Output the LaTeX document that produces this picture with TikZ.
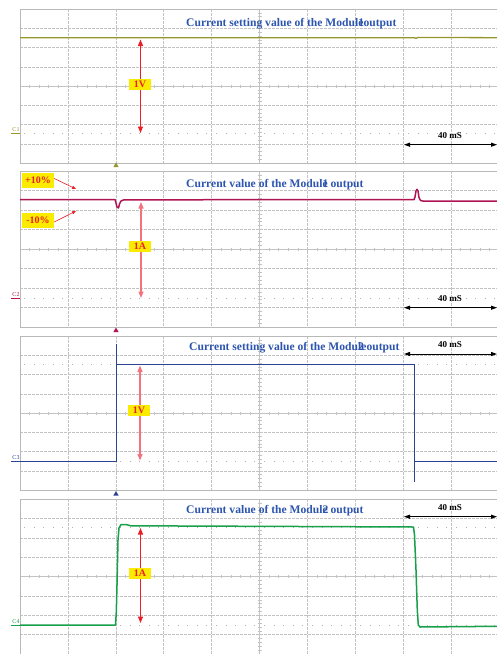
\documentclass[tikz,border=0pt]{standalone}
\usepackage{fontspec}
\setmainfont{Liberation Serif}
\usetikzlibrary{arrows.meta,shapes.geometric}
\definecolor{gridc}{RGB}{195,195,195}
\definecolor{framec}{RGB}{185,185,185}
\definecolor{olivec}{RGB}{150,150,45}
\definecolor{crim}{RGB}{175,20,85}
\definecolor{bluec}{RGB}{45,65,145}
\definecolor{greenc}{RGB}{25,160,75}
\definecolor{titlec}{RGB}{45,85,175}
\definecolor{redc}{RGB}{235,30,40}
\definecolor{pinkc}{RGB}{242,115,125}
\definecolor{yel}{RGB}{250,235,0}
\tikzset{
  gridl/.style={draw=gridc, line width=0.5pt, dash pattern=on 2.5pt off 1.5pt},
  axisl/.style={draw=gridc, line width=0.5pt},
  framel/.style={draw=framec, line width=0.8pt},
  cursl/.style={draw=gray!60, line width=0.7pt, dash pattern=on 0.7pt off 8.9pt},
  ttl/.style={text=titlec, font=\fontsize{11.6}{13}\selectfont\bfseries, inner sep=0pt, anchor=west},
  lbl/.style={fill=yel, text=redc, font=\fontsize{10}{11}\selectfont\bfseries, inner sep=0pt, minimum width=22pt, minimum height=11pt},
  redarr/.style={draw=redc, line width=1.2pt, {Triangle[length=6.5pt,width=5pt]}-{Triangle[length=6.5pt,width=5pt]}},
  pinkarr/.style={draw=pinkc, line width=1.3pt, {Triangle[length=6.5pt,width=5pt]}-{Triangle[length=6.5pt,width=5pt]}},
  smallarr/.style={draw=redc, line width=0.6pt, -{Triangle[length=4pt,width=3pt]}},
  timearr/.style={draw=black, line width=1pt, {Triangle[length=6pt,width=4pt]}-{Triangle[length=6pt,width=4pt]}},
  timelbl/.style={text=black, font=\fontsize{9}{10}\selectfont\bfseries, inner sep=0pt},
  chl/.style={font=\fontsize{6}{7}\selectfont, inner sep=0pt, anchor=south},
  trig/.style={isosceles triangle, isosceles triangle apex angle=60, shape border rotate=90, inner sep=0pt, minimum size=4.5pt}
}
\begin{document}
\begin{tikzpicture}[x=1pt,y=-1pt]
\useasboundingbox (0,0) rectangle (497,654);
\fill[white] (0,0) rectangle (497,654);
\begin{scope}
\clip (0,0) rectangle (497,654);
% ---------- grids ----------
\foreach \t/\b in {9/163,171/327,336/490,499/654}{
  \pgfmathsetmacro{\h}{(\b-\t)/8}
  \pgfmathsetmacro{\cy}{(\t+\b)/2}
  \foreach \i in {1,2,3,4,6,7,8,9} \draw[gridl] ({20+47.9*\i},\t) -- ({20+47.9*\i},\b);
  \foreach \j in {1,2,3,5,6,7} \draw[gridl] (20,{\t+\h*\j}) -- (497,{\t+\h*\j});
  \draw[axisl] (259.5,\t) -- (259.5,\b);
  \draw[axisl] (20,\cy) -- (497,\cy);
  \foreach \k in {1,...,49} \draw[axisl] ({20+9.58*\k},{\cy-1.5}) -- ({20+9.58*\k},{\cy+1.5});
  \foreach \k in {1,...,39} \draw[axisl] (257.5,{\t+\h/5*\k}) -- (261.5,{\t+\h/5*\k});
  \draw[framel] (20,\b) -- (20,\t) -- (497,\t);
  \draw[framel] (20,\b) -- (497,\b);
}
% ---------- cursor dots ----------
\draw[cursl] (24,133) -- (497,133);
\draw[cursl] (24,298) -- (497,298);
\draw[cursl] (24,364.5) -- (497,364.5);
\draw[cursl] (24,461) -- (497,461);
\draw[cursl] (24,527) -- (497,527);
\draw[cursl] (24,625) -- (497,625);
% ---------- traces ----------
\draw[olivec, line width=1.3pt] (20,37.7) -- (414,37.7) -- (416,38.3) -- (418,37.4) -- (497,37.7);
\draw[crim, line width=1.5pt, line join=round] (20,199.5) -- (115,199.5) -- (116,203) -- (117,207) -- (118.5,208) -- (119.5,204) -- (121,201) -- (124,199.8) -- (414,199.6) -- (415,197) -- (416,191) -- (417,189.3) -- (418,191) -- (419,197.5) -- (420.5,200.5) -- (423,201) -- (497,201);
\draw[bluec, line width=0.8pt] (20,461) -- (116,461) -- (116,343.5);
\draw[bluec, line width=0.8pt] (116,364.7) -- (414.3,364.7) -- (414.3,482);
\draw[bluec, line width=0.8pt] (414.3,461) -- (497,461);
\draw[greenc, line width=1.5pt, line join=round] (20,625) -- (115.5,625) -- (116.3,612) -- (117,585) -- (118,540) -- (119,528) -- (121,524.5) -- (126,524.5) -- (131,525.8) -- (300,526.5) -- (413.5,527) -- (414.5,535) -- (416,570) -- (417.3,610) -- (418.3,625) -- (420,627) -- (497,626.3);
\end{scope}
% ---------- channel markers ----------
\node[chl, text=olivec] (c1) at (16,131.5) {C1};
\draw[olivec, line width=0.6pt] (11,133) -- (20,133);
\node[chl, text=crim] (c2) at (16,296.5) {C2};
\draw[crim, line width=0.6pt] (11,298) -- (20,298);
\node[chl, text=bluec] (c3) at (16,459.5) {C3};
\draw[bluec, line width=0.6pt] (11,461) -- (20,461);
\node[chl, text=greenc] (c4) at (16,623.5) {C4};
\draw[greenc, line width=0.6pt] (11,625) -- (20,625);
\node[trig, fill=olivec] (m1) at (116,165.5) {};
\node[trig, fill=crim] (m2) at (116,330.5) {};
\node[trig, fill=bluec] (m3) at (116,494) {};
% ---------- titles ----------
\node[ttl] (t1) at (186,24) {Current setting value of the Modul\rlap{1}eoutput};
\node[ttl] (t2) at (186,185) {Current value of the Modul\rlap{1}e output};
\node[ttl] (t3) at (189,348) {Current setting value of the Modu\rlap{2}leoutput};
\node[ttl] (t4) at (186,510.5) {Current value of the Modul\rlap{2}e output};
% ---------- amplitude arrows ----------
\coordinate (a1t) at (140.5,39.5);
\coordinate (a1b) at (140.5,133);
\draw[redarr] (a1t) -- (a1b);
\node[lbl] (l1) at (140,84) {1V};
\coordinate (a2t) at (141,202);
\coordinate (a2b) at (141,298);
\draw[pinkarr] (a2t) -- (a2b);
\node[lbl] (l2) at (140,246.5) {1A};
\coordinate (a3t) at (140,365.5);
\coordinate (a3b) at (140,460.5);
\draw[pinkarr] (a3t) -- (a3b);
\node[lbl] (l3) at (139,410) {1V};
\coordinate (a4t) at (140.5,528);
\coordinate (a4b) at (140.5,623);
\draw[redarr] (a4t) -- (a4b);
\node[lbl] (l4) at (140,573.5) {1A};
% ---------- tolerance labels ----------
\node[lbl, minimum width=32pt, minimum height=15pt] (p10) at (38,180.5) {+10\%};
\node[lbl, minimum width=32pt, minimum height=15pt] (m10) at (38,220) {-10\%};
\coordinate (p10e) at (76,189);
\coordinate (m10e) at (76,211);
\draw[smallarr] (p10.east) ++(0,-2) coordinate (p10s) (p10s) -- (p10e);
\draw[smallarr] (m10.east) ++(0,2) coordinate (m10s) (m10s) -- (m10e);
% ---------- time base ----------
\coordinate (tb1l) at (404,144.7);
\coordinate (tb1r) at (497,144.7);
\draw[timearr] (tb1l) -- (tb1r);
\node[timelbl] (s1) at (450,136) {40 mS};
\coordinate (tb2l) at (404,307.7);
\coordinate (tb2r) at (497,307.7);
\draw[timearr] (tb2l) -- (tb2r);
\node[timelbl] (s2) at (450,298.5) {40 mS};
\coordinate (tb3l) at (404,354);
\coordinate (tb3r) at (497,354);
\draw[timearr] (tb3l) -- (tb3r);
\node[timelbl] (s3) at (450,345) {40 mS};
\coordinate (tb4l) at (404,516.7);
\coordinate (tb4r) at (497,516.7);
\draw[timearr] (tb4l) -- (tb4r);
\node[timelbl] (s4) at (450,508) {40 mS};
\end{tikzpicture}
\end{document}
